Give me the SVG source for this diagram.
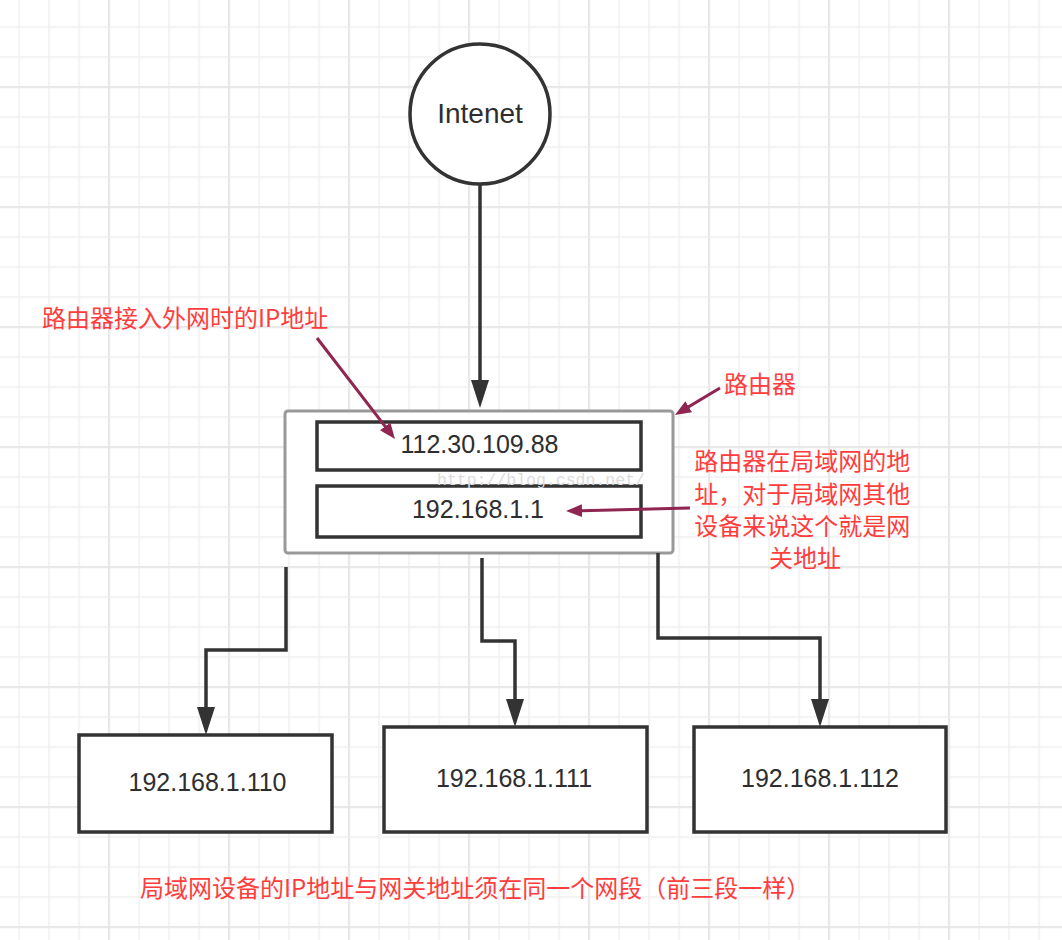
<svg xmlns="http://www.w3.org/2000/svg" width="1062" height="940" viewBox="0 0 1062 940">
<style>
.box{fill:#fff;stroke:#333;stroke-width:3.5}
.num{font-family:"Liberation Sans",Arial,sans-serif;font-size:25px;fill:#2e2e2e;text-anchor:middle}
.red{font-family:"Noto Sans CJK SC","Noto Sans",sans-serif;font-size:24px;fill:#ff3d3d}
.conn{fill:none;stroke:#333;stroke-width:3.5}
.note{fill:none;stroke:#8f2550;stroke-width:3}
.wm{font-family:"Liberation Mono","Courier New",monospace;font-size:16.5px;fill:#dcdcdc}
</style>
<defs>
<pattern id="minor" patternUnits="userSpaceOnUse" x="18.25" y="26.25" width="30" height="30">
<rect x="0" y="0" width="1.5" height="30" fill="#f0f0f0"/>
<rect x="0" y="0" width="30" height="1.5" fill="#f0f0f0"/>
</pattern>
<pattern id="major" patternUnits="userSpaceOnUse" x="108.25" y="86.25" width="120" height="120">
<rect x="0" y="0" width="1.5" height="120" fill="#e3e3e3"/>
<rect x="0" y="0" width="120" height="1.5" fill="#e3e3e3"/>
</pattern>
<marker id="ah" markerUnits="userSpaceOnUse" viewBox="0 -10 30 20" markerWidth="30" markerHeight="20" refX="18" refY="0" orient="auto">
<path d="M0,-9 L28,0 L0,9 Z" fill="#333"/>
</marker>
<marker id="rh" markerUnits="userSpaceOnUse" viewBox="0 -8 18 16" markerWidth="18" markerHeight="16" refX="10" refY="0" orient="auto">
<path d="M0,-6.5 L16,0 L0,6.5 Z" fill="#8f2550"/>
</marker>
</defs>
<rect width="1062" height="940" fill="#fff"/>
<rect width="1062" height="940" fill="url(#minor)"/>
<rect width="1062" height="940" fill="url(#major)"/>

<g id="internet">
<circle cx="480" cy="114" r="70" fill="#fff" stroke="#333" stroke-width="3.5"/>
<text x="480" y="123" font-family="'Liberation Sans',Arial,sans-serif" font-size="28" fill="#2e2e2e" text-anchor="middle">Intenet</text>
</g>

<g id="router">
<rect x="285" y="411" width="388" height="142" rx="3" fill="#fff" stroke="#999" stroke-width="3"/>
</g>
<g id="wan-ip">
<rect class="box" x="317" y="422" width="324" height="48"/>
<text class="num" x="479.5" y="453">112.30.109.88</text>
</g>
<g id="lan-ip">
<rect class="box" x="317" y="486" width="324" height="51"/>
<text class="num" x="478" y="518">192.168.1.1</text>
</g>
<text class="wm" x="437" y="485">http://blog.csdn.net/</text>

<g id="host110">
<rect class="box" x="79" y="735" width="253" height="97"/>
<text class="num" x="207.5" y="791">192.168.1.110</text>
</g>
<g id="host111">
<rect class="box" x="384" y="727" width="263" height="105"/>
<text class="num" x="514" y="787">192.168.1.111</text>
</g>
<g id="host112">
<rect class="box" x="694" y="727" width="252" height="105"/>
<text class="num" x="820" y="787">192.168.1.112</text>
</g>

<g id="labels">
<text class="red" x="42" y="327">路由器接入外网时的IP地址</text>
<text class="red" x="724" y="393">路由器</text>
<text class="red" text-anchor="middle">
<tspan x="805" y="470">路由器在局域网的地</tspan>
<tspan x="805" y="502.5">址，对于局域网其他</tspan>
<tspan x="805" y="535">设备来说这个就是网</tspan>
<tspan x="805" y="567">关地址</tspan>
</text>
<text class="red" x="140" y="897">局域网设备的IP地址与网关地址须在同一个网段（前三段一样）</text>
</g>

<g id="connectors">
<path class="conn" d="M480,185 V398" marker-end="url(#ah)"/>
<path class="conn" d="M286,567 V650 H206 V725" marker-end="url(#ah)"/>
<path class="conn" d="M482,558 V641 H515 V717" marker-end="url(#ah)"/>
<path class="conn" d="M658,553 V638 H820 V717" marker-end="url(#ah)"/>
<path class="note" d="M317,338 L391.3,434.3" marker-end="url(#rh)"/>
<path class="note" d="M720,388 L680.1,411.9" marker-end="url(#rh)"/>
<path class="note" d="M690,508 L572,510.9" marker-end="url(#rh)"/>
</g>
</svg>
